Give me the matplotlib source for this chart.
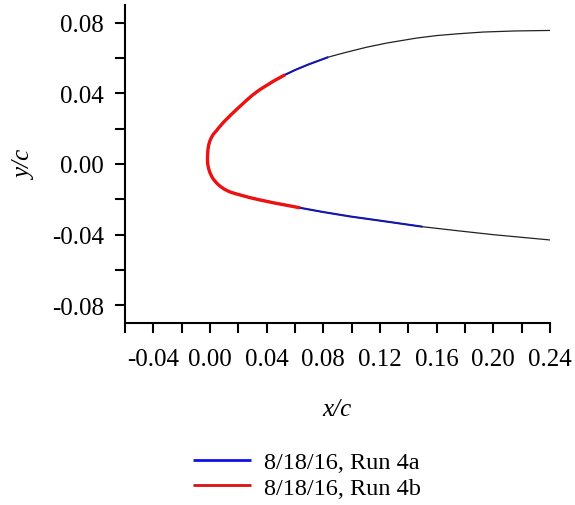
import matplotlib
matplotlib.use("Agg")
import matplotlib.pyplot as plt
from matplotlib.ticker import MultipleLocator, FormatStrFormatter
import numpy as np

# Airfoil geometry
upper_x = [-0.0017, -0.0014, -0.0009, -0.0002, 0.001, 0.0023, 0.0047, 0.007, 0.010, 0.015, 0.020,
           0.026, 0.030, 0.035, 0.040, 0.045, 0.053, 0.060, 0.070, 0.0835, 0.095, 0.110,
           0.125, 0.146, 0.160, 0.175, 0.193, 0.215, 0.240]
upper_y = [0.0050, 0.0085, 0.0108, 0.0128, 0.0150, 0.0168, 0.0190, 0.0213, 0.0240, 0.0280, 0.0318,
           0.0362, 0.0390, 0.0420, 0.0445, 0.0470, 0.0505, 0.0532, 0.0565, 0.0605, 0.0630, 0.0660,
           0.0685, 0.0713, 0.0727, 0.0737, 0.0747, 0.0753, 0.0756]
lower_x = [-0.0017, -0.0018, -0.0016, -0.0010, 0.0, 0.0012, 0.0023, 0.0047, 0.007, 0.010, 0.014,
           0.018, 0.028, 0.035, 0.045, 0.055, 0.0636, 0.080, 0.099, 0.115, 0.130, 0.150,
           0.175, 0.200, 0.220, 0.240]
lower_y = [0.0050, 0.0025, 0.0000, -0.0025, -0.0050, -0.0070, -0.0085, -0.0108, -0.0125, -0.0142, -0.0158,
           -0.0168, -0.0190, -0.0203, -0.0220, -0.0235, -0.0248, -0.0272, -0.0297, -0.0315, -0.0332, -0.0355,
           -0.0378, -0.0400, -0.0415, -0.0430]

# Measured extents of the runs along chord (upper, lower)
run4a_extent = (0.0835, 0.150)
run4b_extent = (0.053, 0.0636)

labels = ["8/18/16, Run 4a", "8/18/16, Run 4b"]
xticks = [-0.04, 0.00, 0.04, 0.08, 0.12, 0.16, 0.20, 0.24]
yticks = [-0.08, -0.04, 0.00, 0.04, 0.08]

plt.rcParams['font.family'] = ['Liberation Serif', 'DejaVu Serif']

fig = plt.figure(figsize=(5.75, 5.06), dpi=100)
ax = fig.add_axes([125/575, 1-324/506, (550-125)/575, (324-6)/506])

ux, uy = np.array(upper_x), np.array(upper_y)
lx, ly = np.array(lower_x), np.array(lower_y)

def run_curve(ext):
    mu = ux <= ext[0] + 1e-9
    ml = lx <= ext[1] + 1e-9
    xs = np.concatenate([ux[mu][::-1], lx[ml][1:]])
    ys = np.concatenate([uy[mu][::-1], ly[ml][1:]])
    return xs, ys

kw = dict(solid_joinstyle='round', solid_capstyle='butt')
gx = np.concatenate([ux[::-1], lx[1:]])
gy = np.concatenate([uy[::-1], ly[1:]])
ax.plot(gx, gy, color='#222222', lw=0.9, zorder=2, **kw)
xa, ya = run_curve(run4a_extent)
ax.plot(xa, ya, color='#1515b0', lw=1.5, zorder=3, label=labels[0], **kw)
xb, yb = run_curve(run4b_extent)
ax.plot(xb, yb, color='#ee1111', lw=2.4, zorder=4, label=labels[1], **kw)

ax.set_xlim(-0.06, 0.24)
ax.set_ylim(-0.09, 0.09)
ax.set_xticks(xticks)
ax.set_yticks(yticks)
ax.xaxis.set_minor_locator(MultipleLocator(0.02))
ax.yaxis.set_minor_locator(MultipleLocator(0.02))
ax.xaxis.set_major_formatter(FormatStrFormatter('%.2f'))
ax.yaxis.set_major_formatter(FormatStrFormatter('%.2f'))
for s in ['top', 'right']:
    ax.spines[s].set_visible(False)
for s in ['left', 'bottom']:
    ax.spines[s].set_linewidth(1.5)
ax.tick_params(which='both', direction='out', length=7.2, width=1.5, labelsize=18)
ax.tick_params(axis='x', pad=11)
ax.tick_params(axis='y', pad=8)

fig.text(337/575, 1-410/506, 'x/c', style='italic', fontsize=18, ha='center', va='center')
fig.text(25/575, 1-165/506, 'y/c', style='italic', fontsize=18, ha='center', va='center', rotation=90)

leg = fig.legend(loc='center', bbox_to_anchor=(307/575, 1-476/506), frameon=False, fontsize=17.5,
                 handlelength=2.4, handletextpad=0.55, labelspacing=0.15)
colors = ['#1010ee', '#dd1111']
for ln, c in zip(leg.get_lines(), colors):
    ln.set_linewidth(2.0)
    ln.set_color(c)

fig.savefig('out.png', dpi=100)
